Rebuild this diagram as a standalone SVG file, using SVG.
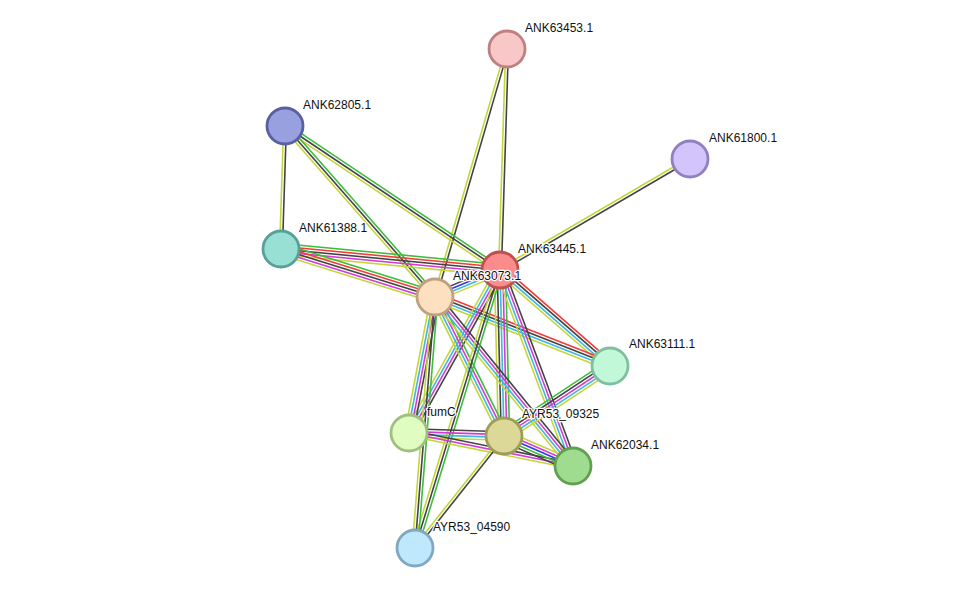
<svg xmlns="http://www.w3.org/2000/svg" width="976" height="594" viewBox="0 0 976 594">
<style>
#edges path{fill:none;stroke-width:1.6}
.n{stroke:#3dbd3d}.r{stroke:#f53b3b}.k{stroke:#444}.m{stroke:#d43cd4}.c{stroke:#3fb8e0}.y{stroke:#c4d63a}.b{stroke:#3535ee}
circle{stroke-width:2.8}
text{font-family:"Liberation Sans",Arial,sans-serif;font-size:12px;fill:#111;stroke:#fff;stroke-width:2.5;paint-order:stroke;stroke-linejoin:round}
</style>
<rect width="976" height="594" fill="#fff"/>
<g id="edges">
<g transform="translate(507 49) rotate(91.81)"><path class="k" d="M0 -1.4h221.1"/><path class="y" d="M0 1.4h221.1"/></g>
<g transform="translate(507 49) rotate(106.19)"><path class="k" d="M0 -1.4h258.2"/><path class="y" d="M0 1.4h258.2"/></g>
<g transform="translate(285 126) rotate(91.86)"><path class="k" d="M0 -1.4h123.1"/><path class="y" d="M0 1.4h123.1"/></g>
<g transform="translate(285 126) rotate(33.81)"><path class="n" d="M0 -2.8h258.8"/><path class="k" d="M0 0h258.8"/><path class="y" d="M0 2.8h258.8"/></g>
<g transform="translate(285 126) rotate(48.74)"><path class="n" d="M0 -2.8h227.5"/><path class="k" d="M0 0h227.5"/><path class="y" d="M0 2.8h227.5"/></g>
<g transform="translate(500 270) rotate(-30.3)"><path class="y" d="M0 -1.4h220"/><path class="k" d="M0 1.4h220"/></g>
<g transform="translate(281 249) rotate(5.48)"><path class="n" d="M0 -5.6h220"/><path class="r" d="M0 -2.8h220"/><path class="k" d="M0 0h220"/><path class="m" d="M0 2.8h220"/><path class="y" d="M0 5.6h220"/></g>
<g transform="translate(281 249) rotate(17.31)"><path class="n" d="M0 -5.6h161.3"/><path class="r" d="M0 -2.8h161.3"/><path class="k" d="M0 0h161.3"/><path class="m" d="M0 2.8h161.3"/><path class="y" d="M0 5.6h161.3"/></g>
<g transform="translate(435 297) rotate(-22.56)"><path class="k" d="M0 -4.2h70.4"/><path class="b" d="M0 -1.4h70.4"/><path class="c" d="M0 1.4h70.4"/><path class="y" d="M0 4.2h70.4"/></g>
<g transform="translate(500 270) rotate(41.11)"><path class="r" d="M0 -4.2h146"/><path class="k" d="M0 -1.4h146"/><path class="c" d="M0 1.4h146"/><path class="y" d="M0 4.2h146"/></g>
<g transform="translate(435 297) rotate(21.52)"><path class="r" d="M0 -4.2h188.1"/><path class="k" d="M0 -1.4h188.1"/><path class="c" d="M0 1.4h188.1"/><path class="y" d="M0 4.2h188.1"/></g>
<g transform="translate(500 270) rotate(119.18)"><path class="k" d="M0 -4.2h186.7"/><path class="m" d="M0 -1.4h186.7"/><path class="c" d="M0 1.4h186.7"/><path class="y" d="M0 4.2h186.7"/></g>
<g transform="translate(435 297) rotate(100.82)"><path class="k" d="M0 -4.2h138.5"/><path class="m" d="M0 -1.4h138.5"/><path class="c" d="M0 1.4h138.5"/><path class="y" d="M0 4.2h138.5"/></g>
<g transform="translate(500 270) rotate(88.62)"><path class="n" d="M0 -5.6h166"/><path class="m" d="M0 -2.8h166"/><path class="c" d="M0 0h166"/><path class="k" d="M0 2.8h166"/><path class="y" d="M0 5.6h166"/></g>
<g transform="translate(435 297) rotate(63.6)"><path class="n" d="M0 -4.2h155.2"/><path class="m" d="M0 -1.4h155.2"/><path class="c" d="M0 1.4h155.2"/><path class="y" d="M0 4.2h155.2"/></g>
<g transform="translate(500 270) rotate(69.57)"><path class="k" d="M0 -4.2h209.2"/><path class="m" d="M0 -1.4h209.2"/><path class="c" d="M0 1.4h209.2"/><path class="y" d="M0 4.2h209.2"/></g>
<g transform="translate(435 297) rotate(50.77)"><path class="k" d="M0 -4.2h218.2"/><path class="m" d="M0 -1.4h218.2"/><path class="c" d="M0 1.4h218.2"/><path class="y" d="M0 4.2h218.2"/></g>
<g transform="translate(500 270) rotate(107)"><path class="n" d="M0 -2.8h290.7"/><path class="k" d="M0 0h290.7"/><path class="y" d="M0 2.8h290.7"/></g>
<g transform="translate(435 297) rotate(94.56)"><path class="n" d="M0 -2.8h251.8"/><path class="k" d="M0 0h251.8"/><path class="y" d="M0 2.8h251.8"/></g>
<g transform="translate(504 436) rotate(-33.44)"><path class="n" d="M0 -5.6h127"/><path class="k" d="M0 -2.8h127"/><path class="m" d="M0 0h127"/><path class="c" d="M0 2.8h127"/><path class="y" d="M0 5.6h127"/></g>
<g transform="translate(409 433) rotate(1.81)"><path class="k" d="M0 -4.2h95.1"/><path class="m" d="M0 -1.4h95.1"/><path class="c" d="M0 1.4h95.1"/><path class="y" d="M0 4.2h95.1"/></g>
<g transform="translate(409 433) rotate(11.38)"><path class="k" d="M0 -2.8h167.3"/><path class="m" d="M0 0h167.3"/><path class="y" d="M0 2.8h167.3"/></g>
<g transform="translate(504 436) rotate(23.5)"><path class="y" d="M0 -5.6h75.2"/><path class="m" d="M0 -2.8h75.2"/><path class="b" d="M0 0h75.2"/><path class="n" d="M0 2.8h75.2"/><path class="k" d="M0 5.6h75.2"/></g>
<g transform="translate(504 436) rotate(128.47)"><path class="k" d="M0 -1.4h143.1"/><path class="y" d="M0 1.4h143.1"/></g>
</g>
<g id="ANK63453.1"><circle cx="507" cy="49" r="18" fill="#f8c8c8" stroke="#c08080"/><text x="525" y="32">ANK63453.1</text></g>
<g id="ANK62805.1"><circle cx="285" cy="126" r="18" fill="#98a0e0" stroke="#5860a0"/><text x="303" y="109">ANK62805.1</text></g>
<g id="ANK61800.1"><circle cx="690" cy="159" r="18" fill="#d4c4fc" stroke="#9080c0"/><text x="709" y="142">ANK61800.1</text></g>
<g id="ANK61388.1"><circle cx="281" cy="249" r="18" fill="#98e0d4" stroke="#58a098"/><text x="299" y="232">ANK61388.1</text></g>
<g id="ANK63445.1"><circle cx="500" cy="270" r="18" fill="#fc8c8c" stroke="#c05050"/><text x="518" y="253">ANK63445.1</text></g>
<g id="ANK63073.1"><circle cx="435" cy="297" r="18" fill="#fde0c0" stroke="#c0a080"/><text x="453" y="280">ANK63073.1</text></g>
<g id="ANK63111.1"><circle cx="610" cy="366" r="18" fill="#c0f8d8" stroke="#80c0a0"/><text x="629" y="348">ANK63111.1</text></g>
<g id="AYR53_04590"><circle cx="415" cy="548" r="18" fill="#c0e8fc" stroke="#80a8c0"/><text x="433" y="531">AYR53_04590</text></g>
<g id="ANK62034.1"><circle cx="573" cy="466" r="18" fill="#a0dc90" stroke="#60a050"/><text x="591" y="449">ANK62034.1</text></g>
<g id="fumC"><circle cx="409" cy="433" r="18" fill="#e0fcc0" stroke="#a0c080"/><text x="427" y="416">fumC</text></g>
<g id="AYR53_09325"><circle cx="504" cy="436" r="18" fill="#dcd898" stroke="#a09c58"/><text x="522" y="418">AYR53_09325</text></g>
</svg>
